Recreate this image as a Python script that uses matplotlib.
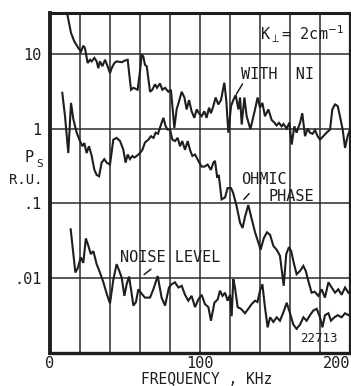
import matplotlib
matplotlib.use("Agg")
import matplotlib.pyplot as plt

plt.rcParams['font.family'] = ['DejaVu Sans Mono', 'DejaVu Sans']

# ---- data (frequency in kHz, P_S in relative units) ----
with_ni_freq = [9.0, 11.5, 14.0, 16.2, 18.9, 20.7, 22.2, 23.3, 25.1, 26.7, 27.8, 29.6, 31.1, 32.2, 33.3,
                34.9, 36.7, 38.4, 40.0, 41.1, 42.9, 44.4, 47.8, 50.0, 51.8, 54.0, 55.6, 58.4, 60.0, 61.1,
                62.2, 63.3, 64.5, 66.7, 68.2, 70.0, 71.3, 73.3, 74.9, 76.7, 78.9, 80.6, 82.9, 84.4, 86.0,
                87.8, 89.6, 91.1, 92.7, 94.4, 96.2, 97.8, 99.3, 101.1, 102.9, 104.4, 106.0, 107.3, 108.9,
                110.4, 112.2, 114.0, 116.2, 117.5, 118.9, 120.7, 122.2, 123.8, 125.6, 126.7, 127.8, 129.6,
                131.1, 133.6, 136.7, 138.4, 140.0, 141.6, 143.3, 145.6, 147.8, 149.6, 151.0, 152.7, 154.4,
                155.6, 157.8, 159.6, 161.1, 162.9, 164.4, 166.7, 168.2, 170.0, 171.8, 173.3, 175.0, 176.7,
                178.4, 180.0, 182.2, 184.4, 186.7, 188.2, 190.0, 191.8, 193.3, 195.1, 196.7, 198.4, 200.0]
with_ni_ps = [45, 34, 19, 14.6, 11.9, 10.7, 12.8, 11.9, 7.5, 8.3, 7.9, 8.8, 7.9, 6.4, 7.9,
              6.8, 8.3, 6.8, 5.5, 6.4, 7.5, 7.9, 7.7, 8.1, 8.3, 3.3, 3.5, 3.3, 5.8, 9.7,
              9.2, 7.1, 6.8, 3.1, 3.3, 3.9, 3.5, 4.0, 3.3, 3.5, 3.1, 3.3, 1.02, 1.8, 2.3,
              3.1, 2.6, 1.8, 2.4, 1.7, 1.39, 1.8, 1.6, 1.46, 1.7, 1.39, 1.9, 1.6, 2.0,
              2.6, 2.1, 2.4, 4.1, 2.4, 0.88, 2.0, 2.4, 2.8, 1.8, 2.6, 1.13, 2.6,
              1.46, 0.98, 1.8, 2.6, 1.9, 2.2, 1.46, 1.8, 1.3, 1.2, 1.1, 1.19, 1.07,
              1.15, 1.0, 1.2, 0.61, 1.07, 0.88, 1.19, 1.6, 0.79, 1.0, 0.88, 0.85, 0.95,
              0.79, 0.71, 0.79, 0.88, 0.97, 1.8, 2.1, 2.0, 1.46, 0.97, 0.55, 0.79, 0.97]

ohmic_freq = [8.2, 10.0, 12.2, 14.0, 15.6, 17.8, 20.0, 21.6, 22.9, 24.4, 26.0, 27.8, 29.6, 31.1, 32.7,
              34.4, 36.2, 37.8, 40.0, 42.2, 44.4, 46.7, 48.9, 50.4, 51.8, 53.3, 54.9, 56.2, 57.8, 60.0,
              61.6, 63.3, 65.6, 67.3, 69.0, 70.4, 72.0, 74.0, 75.6, 77.1, 78.4, 80.0, 81.6, 83.3, 85.1,
              86.7, 88.2, 90.0, 91.8, 93.3, 94.9, 96.7, 98.9, 101.1, 103.0, 105.1, 107.3, 108.9, 110.0,
              111.5, 112.5, 114.4, 116.7, 118.4, 120.7, 122.0, 124.4, 126.7, 128.4, 130.0, 132.2, 133.8,
              136.7, 138.9, 140.4, 142.5, 144.6, 146.7, 148.9, 151.1, 153.3, 155.8, 157.5, 159.3, 160.8,
              162.5, 164.4, 166.7, 168.9, 170.5, 172.2, 174.4, 176.4, 178.9, 181.1, 183.3, 185.6, 187.8,
              190.0, 192.2, 194.4, 196.7, 198.9, 200.0]
ohmic_ps = [3.0, 1.46, 0.47, 2.2, 1.32, 0.88, 0.68, 0.58, 0.64, 0.47, 0.58, 0.43, 0.28, 0.24, 0.23,
            0.35, 0.39, 0.35, 0.33, 0.71, 0.75, 0.68, 0.52, 0.35, 0.45, 0.39, 0.43, 0.41, 0.43, 0.47,
            0.52, 0.65, 0.71, 0.79, 0.75, 0.88, 0.85, 1.13, 1.39, 1.07, 0.97, 0.97, 0.71, 0.68, 0.75,
            0.58, 0.68, 0.52, 0.68, 0.52, 0.43, 0.45, 0.37, 0.31, 0.31, 0.33, 0.28, 0.35, 0.37,
            0.22, 0.24, 0.113, 0.12, 0.16, 0.16, 0.14, 0.092, 0.055, 0.047, 0.066, 0.095, 0.07,
            0.041, 0.030, 0.024, 0.034, 0.041, 0.038, 0.027, 0.024, 0.020, 0.0079, 0.021, 0.026, 0.023,
            0.016, 0.0113, 0.0125, 0.0146, 0.0125, 0.0092, 0.0064, 0.0066, 0.0058, 0.0071, 0.0055, 0.0088, 0.0075,
            0.0064, 0.0071, 0.006, 0.0075, 0.0064, 0.0068]

noise_freq = [13.8, 16.9, 18.5, 20.5, 22.2, 23.9, 25.6, 27.2, 28.9, 31.1, 33.3, 35.6, 37.8, 40.0, 42.2,
              44.4, 46.2, 47.8, 49.6, 51.1, 52.7, 54.0, 55.6, 57.3, 58.9, 61.1, 63.3, 66.7, 68.9, 71.8,
              74.4, 76.7, 79.3, 81.1, 83.3, 85.6, 87.8, 90.0, 92.2, 94.4, 96.7, 98.9, 101.1, 103.3, 105.6,
              107.3, 109.6, 111.8, 113.3, 115.0, 116.7, 118.4, 120.0, 121.1, 122.2, 123.3, 125.1, 127.3, 130.0,
              132.2, 134.4, 136.7, 138.3, 140.0, 141.6, 143.3, 145.1, 146.7, 148.9, 151.1, 153.3, 155.6, 157.8,
              160.0, 162.2, 164.4, 166.7, 168.9, 171.1, 173.3, 175.6, 177.8, 180.0, 181.6, 183.3, 185.6, 187.3,
              189.6, 191.8, 194.4, 196.7, 198.9, 200.0]
noise_ps = [0.045, 0.0119, 0.0136, 0.019, 0.016, 0.034, 0.027, 0.021, 0.023, 0.0154, 0.0119, 0.0088, 0.0062, 0.0046, 0.0095,
            0.0154, 0.0125, 0.0101, 0.0058, 0.0083, 0.0105, 0.0071, 0.0043, 0.0048, 0.0071, 0.0062, 0.0055, 0.0055, 0.0071, 0.0107,
            0.0055, 0.0043, 0.0075, 0.0083, 0.0088, 0.0075, 0.0079, 0.006, 0.005, 0.0058, 0.0041, 0.0052, 0.006, 0.0045, 0.0041,
            0.0027, 0.0047, 0.0052, 0.0068, 0.0058, 0.0064, 0.005, 0.006, 0.0031, 0.0097, 0.0075, 0.0041, 0.0039, 0.0034,
            0.0039, 0.0045, 0.005, 0.0048, 0.0068, 0.0083, 0.0041, 0.0022, 0.003, 0.0026, 0.003, 0.0027, 0.0035, 0.0047,
            0.0034, 0.0024, 0.0021, 0.0024, 0.003, 0.0027, 0.0032, 0.0037, 0.0039, 0.003, 0.0022, 0.0032, 0.0034, 0.0027,
            0.003, 0.0032, 0.003, 0.0034, 0.0032, 0.0033]

x_grid = [0, 20, 40, 60, 80, 100, 120, 140, 160, 180, 200]
x_labels = ['0', '', '', '', '', '100', '', '', '', '', '200']
y_ticks = [0.01, 0.1, 1, 10]
y_labels = ['.01', '.1', '1', '10']

# ---- figure ----
W, H = 351, 386
fig = plt.figure(figsize=(W / 100, H / 100), dpi=100)
ax = fig.add_axes([50 / W, 1 - 353 / H, 300 / W, 340 / H])

ink = '#1e1e1e'
for xs, ys in [(with_ni_freq, with_ni_ps), (ohmic_freq, ohmic_ps), (noise_freq, noise_ps)]:
    ax.plot(xs, ys, color=ink, lw=1.5, solid_joinstyle='miter')

ax.set_yscale('log')
ax.set_xlim(0, 200)
ax.set_ylim(1e-3, 35)
ax.set_xticks(x_grid)
ax.set_xticklabels(x_labels)
ax.set_yticks(y_ticks)
ax.set_yticklabels(y_labels)
ax.yaxis.set_minor_locator(matplotlib.ticker.NullLocator())
ax.tick_params(length=0, labelsize=11, colors=ink)
ax.tick_params(axis='x', pad=2)
ax.tick_params(axis='y', pad=6)
ax.get_xticklabels()[-1].set_ha('right')
ax.grid(True, color='#2a2a2a', lw=1.1)
ax.set_axisbelow(True)
for side, lw in [('left', 2.8), ('bottom', 2.4), ('top', 2.2), ('right', 1.6)]:
    ax.spines[side].set_linewidth(lw)
    ax.spines[side].set_color(ink)

# x label
fig.text(207 / W, 1 - 380 / H, 'FREQUENCY , KHz', ha='center', va='center', fontsize=10.5, color=ink)
# y label
fig.text(25 / W, 1 - 157 / H, 'P', ha='left', va='center', fontsize=11, color=ink)
fig.text(36 / W, 1 - 164 / H, 'S', ha='left', va='center', fontsize=8, color=ink)
fig.text(45 / W, 1 - 156 / H, ',', ha='left', va='center', fontsize=11, color=ink)
fig.text(26 / W, 1 - 180 / H, 'R.U.', ha='center', va='center', fontsize=10, color=ink)

# annotations
ax.text(140, 17.9, r'K$_{\perp}$= 2cm$^{-1}$', ha='left', va='center', fontsize=11, color=ink)
ax.text(127.3, 5.25, 'WITH  NI', ha='left', va='center', fontsize=11, color=ink)
ax.annotate('', xy=(123.3, 2.68), xytext=(129.3, 4.24),
            arrowprops=dict(arrowstyle='-', color=ink, lw=1.1))
ax.text(127.3, 0.209, 'OHMIC', ha='left', va='center', fontsize=11, color=ink)
ax.text(146, 0.124, 'PHASE', ha='left', va='center', fontsize=11, color=ink)
ax.annotate('', xy=(128, 0.106), xytext=(134, 0.144),
            arrowprops=dict(arrowstyle='-', color=ink, lw=1.1))
ax.text(46.7, 0.019, 'NOISE LEVEL', ha='left', va='center', fontsize=11, color=ink)
ax.annotate('', xy=(61.3, 0.0106), xytext=(68.7, 0.0139),
            arrowprops=dict(arrowstyle='-', color=ink, lw=1.1))
ax.text(166.7, 0.00154, '22713', ha='left', va='center', fontsize=9, color=ink)

fig.savefig('out.png', dpi=100)
